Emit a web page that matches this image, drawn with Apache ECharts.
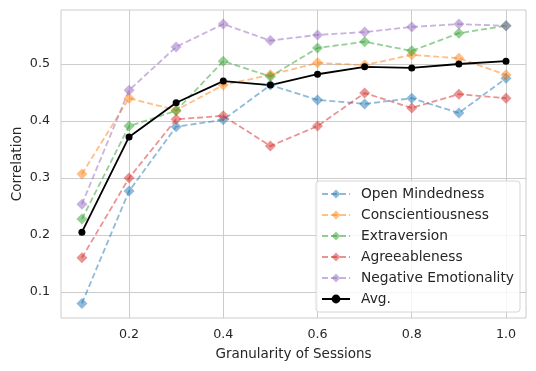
<!DOCTYPE html>
<html>
<head>
<meta charset="utf-8">
<script src="https://cdn.jsdelivr.net/npm/echarts@6/dist/echarts.min.js"></script>
<style>
  html, body { margin: 0; padding: 0; background: #fff; }
  #main { width: 536px; height: 371px; }
</style>
</head>
<body>
<div id="main"></div>
<script>
// data
var granularity = [0.1, 0.2, 0.3, 0.4, 0.5, 0.6, 0.7, 0.8, 0.9, 1.0];
var openMindedness = [0.080, 0.277, 0.390, 0.402, 0.463, 0.437, 0.430, 0.440, 0.414, 0.475];
var conscientiousness = [0.307, 0.440, 0.419, 0.463, 0.481, 0.502, 0.498, 0.516, 0.510, 0.481];
var extraversion = [0.228, 0.391, 0.418, 0.505, 0.478, 0.528, 0.539, 0.523, 0.554, 0.567];
var agreeableness = [0.160, 0.300, 0.403, 0.409, 0.356, 0.391, 0.449, 0.423, 0.447, 0.440];
var negEmotionality = [0.254, 0.454, 0.530, 0.570, 0.541, 0.551, 0.556, 0.565, 0.570, 0.567];
var avg = [0.205, 0.372, 0.432, 0.470, 0.463, 0.482, 0.495, 0.493, 0.500, 0.505];
var xTicks = [0.2, 0.4, 0.6, 0.8, 1.0];
var yTicks = [0.1, 0.2, 0.3, 0.4, 0.5];

function pairs(vals) {
  return granularity.map(function (x, i) { return [x, vals[i]]; });
}

// dashed, semi transparent trait lines with diamond markers
function trait(name, vals, color) {
  return {
    name: name,
    type: "line",
    data: pairs(vals),
    symbol: "diamond",
    symbolSize: 11,
    lineStyle: { color: color, width: 1.8, type: [6, 3], opacity: 0.5 },
    itemStyle: { color: color, opacity: 0.5 },
    animation: false,
  };
}

var fontFam = "DejaVu Sans";
var txt = "#262626";

var option = {
  backgroundColor: "#fff",
  textStyle: { fontFamily: fontFam },
  grid: {
    left: 61, right: 10, top: 10, bottom: 53,
    outerBoundsMode: "none",
    show: true, borderColor: "#cccccc", borderWidth: 1,
  },
  xAxis: {
    type: "value",
    min: 0.0556,
    max: 1.0425,
    name: "Granularity of Sessions",
    nameLocation: "middle",
    nameGap: 29,
    nameMoveOverlap: false,
    nameTextStyle: { color: txt, fontSize: 13.5, fontFamily: fontFam },
    axisLine: { show: false },
    axisTick: { show: false, customValues: xTicks },
    axisLabel: {
      customValues: xTicks,
      color: txt, fontSize: 12.7, fontFamily: fontFam, margin: 10,
      formatter: function (v) { return v.toFixed(1); },
    },
    splitLine: { show: true, lineStyle: { color: "#cccccc", width: 1 } },
  },
  yAxis: {
    type: "value",
    min: 0.0544,
    max: 0.5947,
    name: "Correlation",
    nameLocation: "middle",
    nameGap: 37,
    nameMoveOverlap: false,
    nameTextStyle: { color: txt, fontSize: 13.5, fontFamily: fontFam },
    axisLine: { show: false },
    axisTick: { show: false, customValues: yTicks },
    axisLabel: {
      customValues: yTicks,
      color: txt, fontSize: 12.7, fontFamily: fontFam, margin: 11,
      formatter: function (v) { return v.toFixed(1); },
    },
    splitLine: { show: true, lineStyle: { color: "#cccccc", width: 1 } },
  },
  legend: {
    orient: "vertical",
    left: 316,
    top: 181,
    padding: [6, 6, 6, 5],
    itemGap: 7,
    itemWidth: 28,
    itemHeight: 11,
    backgroundColor: "rgba(255,255,255,0.8)",
    borderColor: "#d6d6d6",
    borderWidth: 1,
    borderRadius: 3,
    textStyle: { color: txt, fontSize: 13.8, fontFamily: fontFam, padding: [0, 0, 0, 6] },
  },
  series: [
    trait("Open Mindedness", openMindedness, "#1f77b4"),
    trait("Conscientiousness", conscientiousness, "#ff7f0e"),
    trait("Extraversion", extraversion, "#2ca02c"),
    trait("Agreeableness", agreeableness, "#d62728"),
    trait("Negative Emotionality", negEmotionality, "#9467bd"),
    {
      name: "Avg.",
      type: "line",
      data: pairs(avg),
      symbol: "circle",
      symbolSize: 7,
      lineStyle: { color: "#000", width: 1.8 },
      itemStyle: { color: "#000" },
      animation: false,
      z: 3,
    },
  ],
};

var chart = echarts.init(document.getElementById("main"));
chart.setOption(option);
</script>
</body>
</html>
